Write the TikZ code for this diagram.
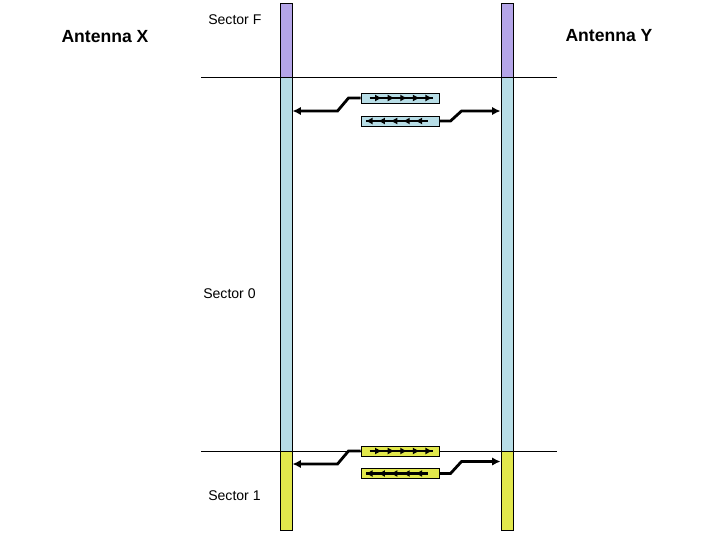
\documentclass[tikz,border=0pt]{standalone}
\usepackage{fontspec}
\setmainfont{Liberation Sans}
\usetikzlibrary{arrows.meta,decorations.markings}
\definecolor{SectorF}{HTML}{B4A5E8}
\definecolor{SectorZero}{HTML}{B7DDE6}
\definecolor{SectorOne}{HTML}{E2E84C}

\begin{document}
\begin{tikzpicture}[x=0.025cm,y=-0.025cm, every node/.style={font=\fontsize{10}{12}\selectfont}]
  \useasboundingbox (0,0) rectangle (720,540);
  \tikzset{
    seg/.style={draw, line width=0.7pt, minimum width=0.3cm, inner sep=0pt, anchor=north},
    pkt/.style={draw, line width=0.7pt, minimum width=1.95cm, minimum height=0.25cm, inner sep=0pt},
    conn/.style={line width=2pt, -{Latex[length=6pt,width=6pt]}},
    flow/.style={line width=1.5pt, postaction={decorate},
      decoration={markings, mark=between positions 0.2 and 1 step 0.2 with {\arrow{Latex[length=5pt,width=5pt]}}}},
    antenna/.style={font=\fontsize{12.5}{14}\selectfont\bfseries}
  }
  \draw (201,77) -- (557,77);
  \draw (201,451) -- (557,451);
  \foreach \b/\x in {x/286,y/507} {
    \node[seg, fill=SectorF, minimum height=1.85cm] (\b F) at (\x,3) {};
    \node[seg, fill=SectorZero, minimum height=9.35cm] (\b 0) at (\x,77) {};
    \node[seg, fill=SectorOne, minimum height=1.975cm] (\b 1) at (\x,451) {};
  }
  \node[antenna] (antX) at (105,37) {Antenna X};
  \node[antenna] (antY) at (609,36) {Antenna Y};
  \node[anchor=west, inner sep=0pt] (labF) at (208,20) {Sector F};
  \node[anchor=west, inner sep=0pt] (lab0) at (203,294) {Sector 0};
  \node[anchor=west, inner sep=0pt] (lab1) at (208,496) {Sector 1};

  \node[pkt, fill=SectorZero] (fwd0) at (400,98) {};
  \node[pkt, fill=SectorZero] (rev0) at (400,121) {};
  \node[pkt, fill=SectorOne] (fwd1) at (400,451) {};
  \node[pkt, fill=SectorOne] (rev1) at (400,473.5) {};
  \foreach \p in {0,1} {
    \draw[flow] (fwd\p.west) ++(9,0) -- ++(63,0);
    \draw[flow] (rev\p.east) ++(-12,0) -- ++(-62,0);
  }
  \draw[conn] (fwd0.west) -- ++(-12,0) -- ++(-11,13) coordinate (kx0) -- (kx0 -| x0.east);
  \draw[conn] (rev0.east) -- ++(11,0) -- ++(11,-10) coordinate (ky0) -- (ky0 -| y0.west);
  \draw[conn] (fwd1.west) -- ++(-12,0) -- ++(-11,13) coordinate (kx1) -- (kx1 -| x1.east);
  \draw[conn] (rev1.east) -- ++(11,0) -- ++(11,-12) coordinate (ky1) -- (ky1 -| y1.west);
\end{tikzpicture}
\end{document}
